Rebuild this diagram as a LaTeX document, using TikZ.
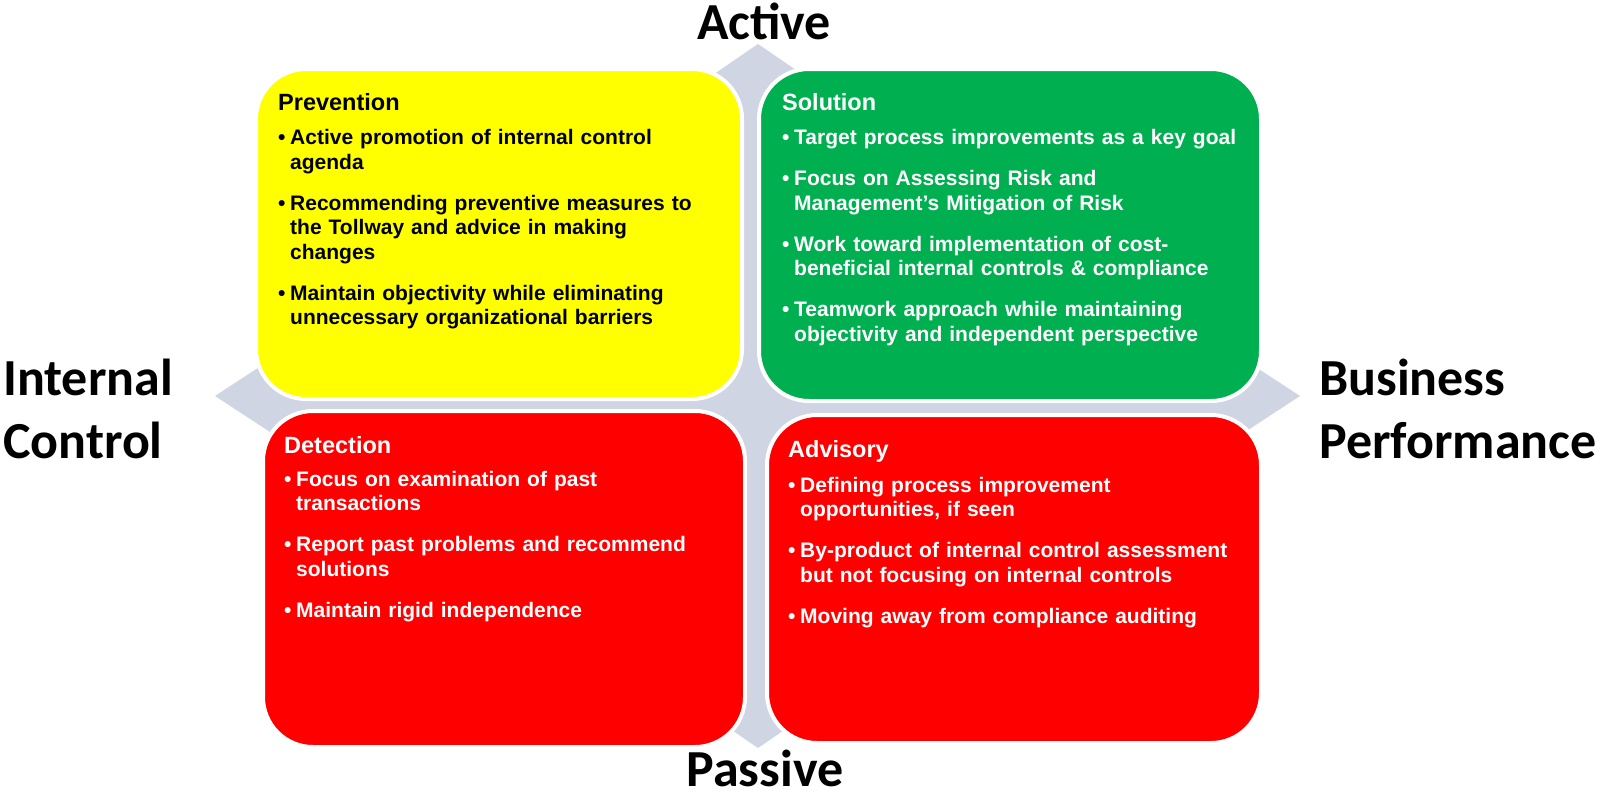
\documentclass[tikz,border=0pt]{standalone}
\usepackage{fontspec}
\setmainfont{Liberation Sans}
\newfontfamily\axisfont{Carlito}
\usepackage{tikz}
\usetikzlibrary{positioning}
\definecolor{prevyellow}{HTML}{FFFF00}
\definecolor{solgreen}{HTML}{00B050}
\definecolor{detred}{HTML}{FF0000}
\definecolor{crossgray}{HTML}{CFD5E3}
\newcommand{\boxhead}[1]{{\fontsize{23.5}{24.5}\selectfont #1}\par}
\newcommand{\boxitem}[2][16.5pt]{\par\vspace{#1}\hangindent=12pt\hangafter=1\noindent\makebox[12pt][l]{\textbullet}#2\par}

\begin{document}
\begin{tikzpicture}[x=1pt, y=-1pt,
	quadbox/.style={draw=white, line width=4pt, rounded corners=50pt, minimum width=486pt, minimum height=330pt, inner sep=0pt},
	boxtext/.style={anchor=base west, inner sep=0pt, text width=470pt, align=left, font=\bfseries\fontsize{21}{24.5}\selectfont},
	axislabel/.style={inner sep=0pt, font=\axisfont\bfseries\fontsize{52}{63}\selectfont}]
			%%%%% START %%%%%
			
			\useasboundingbox (0, 0) rectangle (1604, 793);
			
			% cross arrows behind the boxes
			\fill[crossgray] (758, 44) -- (853, 109) -- (818, 109) -- (818, 336) -- (1190, 336) -- (1190, 324) -- (1300, 396)
				-- (1190, 468) -- (1190, 456) -- (818, 456) -- (818, 683) -- (853, 683) -- (758, 748) -- (663, 683)
				-- (698, 683) -- (698, 456) -- (325, 456) -- (325, 468) -- (215, 396) -- (325, 324) -- (325, 336)
				-- (698, 336) -- (698, 109) -- (663, 109) -- cycle;
			
			\node[quadbox, fill=prevyellow, minimum width=486pt, minimum height=330pt] (prevention) at (499, 234) {};
			\node[quadbox, fill=solgreen, minimum width=502pt, minimum height=332pt] (solution) at (1010, 235) {};
			\node[quadbox, fill=detred, minimum width=482pt, minimum height=336pt] (detection) at (504, 579) {};
			\node[quadbox, fill=detred, minimum width=494pt, minimum height=328pt] (advisory) at (1014, 579) {};
			
			\node[boxtext, text=black] (preventiontext) at (278, 110) {\boxhead{Prevention}
				\boxitem[10pt]{Active promotion of internal control\newline agenda}
				\boxitem{Recommending preventive measures to\newline the Tollway and advice in making\newline changes}
				\boxitem{Maintain objectivity while eliminating\newline unnecessary organizational barriers}};
			
			\node[boxtext, text=white] (solutiontext) at (782, 110) {\boxhead{Solution}
				\boxitem[10pt]{Target process improvements as a key goal}
				\boxitem{Focus on Assessing Risk and\newline Management’s Mitigation of Risk}
				\boxitem{Work toward implementation of cost-\newline beneficial internal controls \& compliance}
				\boxitem{Teamwork approach while maintaining\newline objectivity and independent perspective}};
			
			\node[boxtext, text=white] (detectiontext) at (284, 453) {\boxhead{Detection}
				\boxitem[8.5pt]{Focus on examination of past\newline transactions}
				\boxitem{Report past problems and recommend\newline solutions}
				\boxitem{Maintain rigid independence}};
			
			\node[boxtext, text=white] (advisorytext) at (788, 457) {\boxhead{Advisory}
				\boxitem[10.5pt]{Defining process improvement\newline opportunities, if seen}
				\boxitem{By-product of internal control assessment\newline but not focusing on internal controls}
				\boxitem{Moving away from compliance auditing}};
			
			\node[axislabel, anchor=base] (active) at (764, 39) {Active};
			\node[axislabel, anchor=base] (passive) at (765, 786) {Passive};
			\node[axislabel, anchor=base west, text width=260pt, align=left] (internal) at (3, 395) {Internal\newline Control};
			\node[axislabel, anchor=base west, text width=290pt, align=left] (business) at (1319, 395) {Business\newline Performance};
			
			%%%%% END %%%%%
\end{tikzpicture}
\end{document}
